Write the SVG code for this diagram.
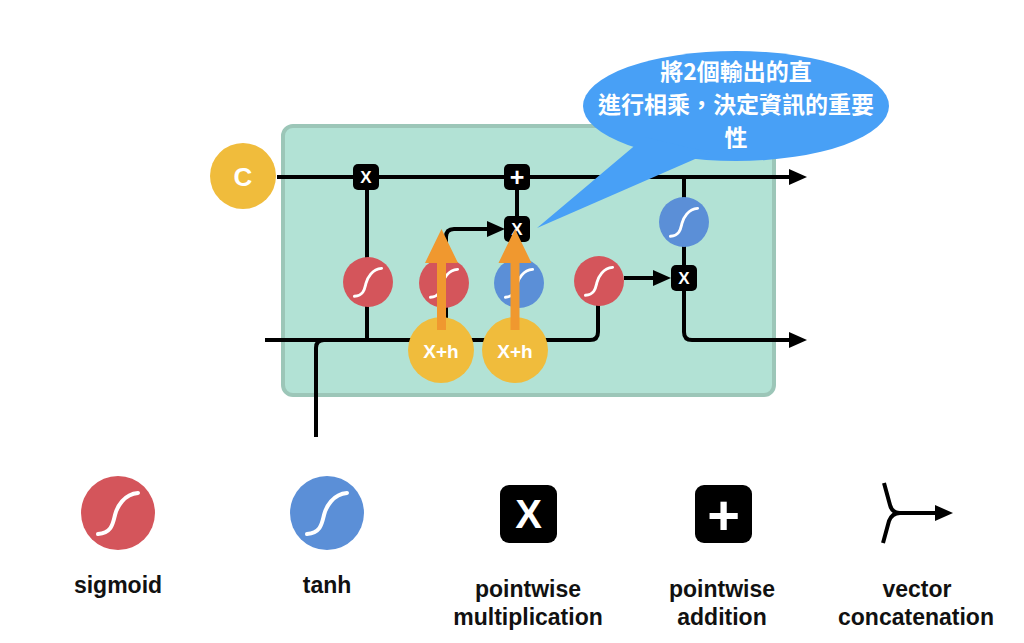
<svg xmlns="http://www.w3.org/2000/svg" width="1024" height="643" viewBox="0 0 1024 643">
<style>
.ln{fill:none;stroke:#000;stroke-width:4;stroke-linecap:butt;stroke-linejoin:round}
.sig{fill:#d4555b}
.tanh{fill:#5b8fd7}
.op{fill:#000}
.optx{fill:#fff;font-family:"Liberation Sans",Arial,sans-serif;font-weight:bold;text-anchor:middle}
.yel{fill:#f0bc3c}
.ytx{fill:#fff;font-family:"Liberation Sans",Arial,sans-serif;font-weight:bold;text-anchor:middle}
.org{fill:#f0982f}
.scurve{fill:none;stroke:#fff;stroke-linecap:round}
.leg{fill:#111;font-family:"Liberation Sans",Arial,sans-serif;font-weight:bold;font-size:23px;text-anchor:middle}
.bub{fill:#48a0f6}
.btx{fill:#fff;font-family:"Noto Sans CJK TC","Noto Sans CJK SC",sans-serif;font-weight:bold;font-size:23px;text-anchor:middle}
</style>
<defs>
<marker id="arr" markerUnits="userSpaceOnUse" markerWidth="18" markerHeight="16" viewBox="0 0 18 16" refX="2" refY="8" orient="auto">
<path d="M0,0 L18,8 L0,16 z" fill="#000"/>
</marker>
<path id="s" d="M -20 21 C -6 20, -5 10, -3 2 S 6 -19, 20 -20"/>
</defs>
<rect width="1024" height="643" fill="#fff"/>
<g id="cell">
<rect x="283" y="126" width="491" height="269" rx="10" ry="10" fill="#b2e2d5" stroke="#9cc6b8" stroke-width="4"/>
</g>
<g id="connectors">
<path class="ln" d="M 277 177 H 791" marker-end="url(#arr)"/>
<path class="ln" d="M 265 340 H 590 Q 598 340 598 332 V 283"/>
<path class="ln" d="M 316 437 V 348 Q 316 340 324 340"/>
<path class="ln" d="M 367 340 V 177"/>
<path class="ln" d="M 446 340 V 237 Q 446 229 454 229 H 489" marker-end="url(#arr)"/>
<path class="ln" d="M 517 340 V 177"/>
<path class="ln" d="M 624 278 H 655" marker-end="url(#arr)"/>
<path class="ln" d="M 684 177 V 332 Q 684 340 692 340 H 791" marker-end="url(#arr)"/>
</g>
<g id="c_state"><circle class="yel" cx="243" cy="176" r="33"/><text class="ytx" x="243" y="185.5" font-size="26">C</text></g>
<g id="sigmoid1"><circle class="sig" cx="368" cy="282" r="25"/><use href="#s" class="scurve" stroke-width="4.2" transform="translate(368 282) scale(0.68)"/></g>
<g id="sigmoid2"><circle class="sig" cx="444" cy="283" r="25"/><use href="#s" class="scurve" stroke-width="4.2" transform="translate(444 283) scale(0.68)"/></g>
<g id="tanh1"><circle class="tanh" cx="519" cy="283" r="25"/><use href="#s" class="scurve" stroke-width="4.2" transform="translate(519 283) scale(0.68)"/></g>
<g id="sigmoid3"><circle class="sig" cx="599" cy="281" r="25"/><use href="#s" class="scurve" stroke-width="4.2" transform="translate(599 281) scale(0.68)"/></g>
<g id="tanh2"><circle class="tanh" cx="684" cy="222" r="25"/><use href="#s" class="scurve" stroke-width="4.2" transform="translate(684 222) scale(0.68)"/></g>
<g id="mult1"><rect class="op" x="353" y="164" width="26" height="26" rx="5"/><text class="optx" x="366" y="183" font-size="17">X</text></g>
<g id="add1"><rect class="op" x="504" y="164" width="26" height="26" rx="5"/><text class="optx" x="517" y="186" font-size="25">+</text></g>
<g id="mult2"><rect class="op" x="504" y="216" width="26" height="26" rx="5"/><text class="optx" x="517" y="235" font-size="17">X</text></g>
<g id="mult3"><rect class="op" x="671" y="265" width="26" height="26" rx="5"/><text class="optx" x="684" y="284" font-size="17">X</text></g>
<g id="xh1"><circle class="yel" cx="441" cy="350" r="33"/><text class="ytx" x="441" y="358" font-size="19">X+h</text></g>
<g id="xh2"><circle class="yel" cx="515" cy="350" r="33"/><text class="ytx" x="515" y="358" font-size="19">X+h</text></g>
<g id="orange_arrows">
<polygon class="org" points="437,330 437,263 425,263 441.5,229 458,263 446,263 446,330"/>
<polygon class="org" points="510.5,330 510.5,263 498.5,263 515,229 531.5,263 519.5,263 519.5,330"/>
</g>
<g id="callout">
<ellipse class="bub" cx="736" cy="106" rx="153" ry="55"/>
<polygon class="bub" points="645,137 537,228 710,152.6"/>
<text class="btx" x="736" y="80">將2個輸出的直</text>
<text class="btx" x="736" y="113">進行相乘，決定資訊的重要</text>
<text class="btx" x="736" y="146">性</text>
</g>
<g id="legend_sigmoid"><circle class="sig" cx="118" cy="513" r="37"/><use href="#s" class="scurve" stroke-width="4" transform="translate(118 513)"/><text class="leg" x="118" y="593">sigmoid</text></g>
<g id="legend_tanh"><circle class="tanh" cx="327" cy="513" r="37"/><use href="#s" class="scurve" stroke-width="4" transform="translate(327 513)"/><text class="leg" x="327" y="593">tanh</text></g>
<g id="legend_mult"><rect class="op" x="500" y="485" width="57" height="58" rx="9"/><text class="optx" x="528.5" y="528" font-size="40">X</text><text class="leg" x="528" y="597">pointwise</text><text class="leg" x="528" y="625">multiplication</text></g>
<g id="legend_add"><rect class="op" x="695" y="485" width="57" height="58" rx="9"/><text class="optx" x="723.5" y="534" font-size="56">+</text><text class="leg" x="722" y="597">pointwise</text><text class="leg" x="722" y="625">addition</text></g>
<g id="legend_concat"><path class="ln" d="M 884 483 L 890 505 Q 892 513 900 513 M 883 543 L 889 521 Q 892 513 900 513 H 937" marker-end="url(#arr)"/><text class="leg" x="917" y="597">vector</text><text class="leg" x="916" y="625">concatenation</text></g>
</svg>
